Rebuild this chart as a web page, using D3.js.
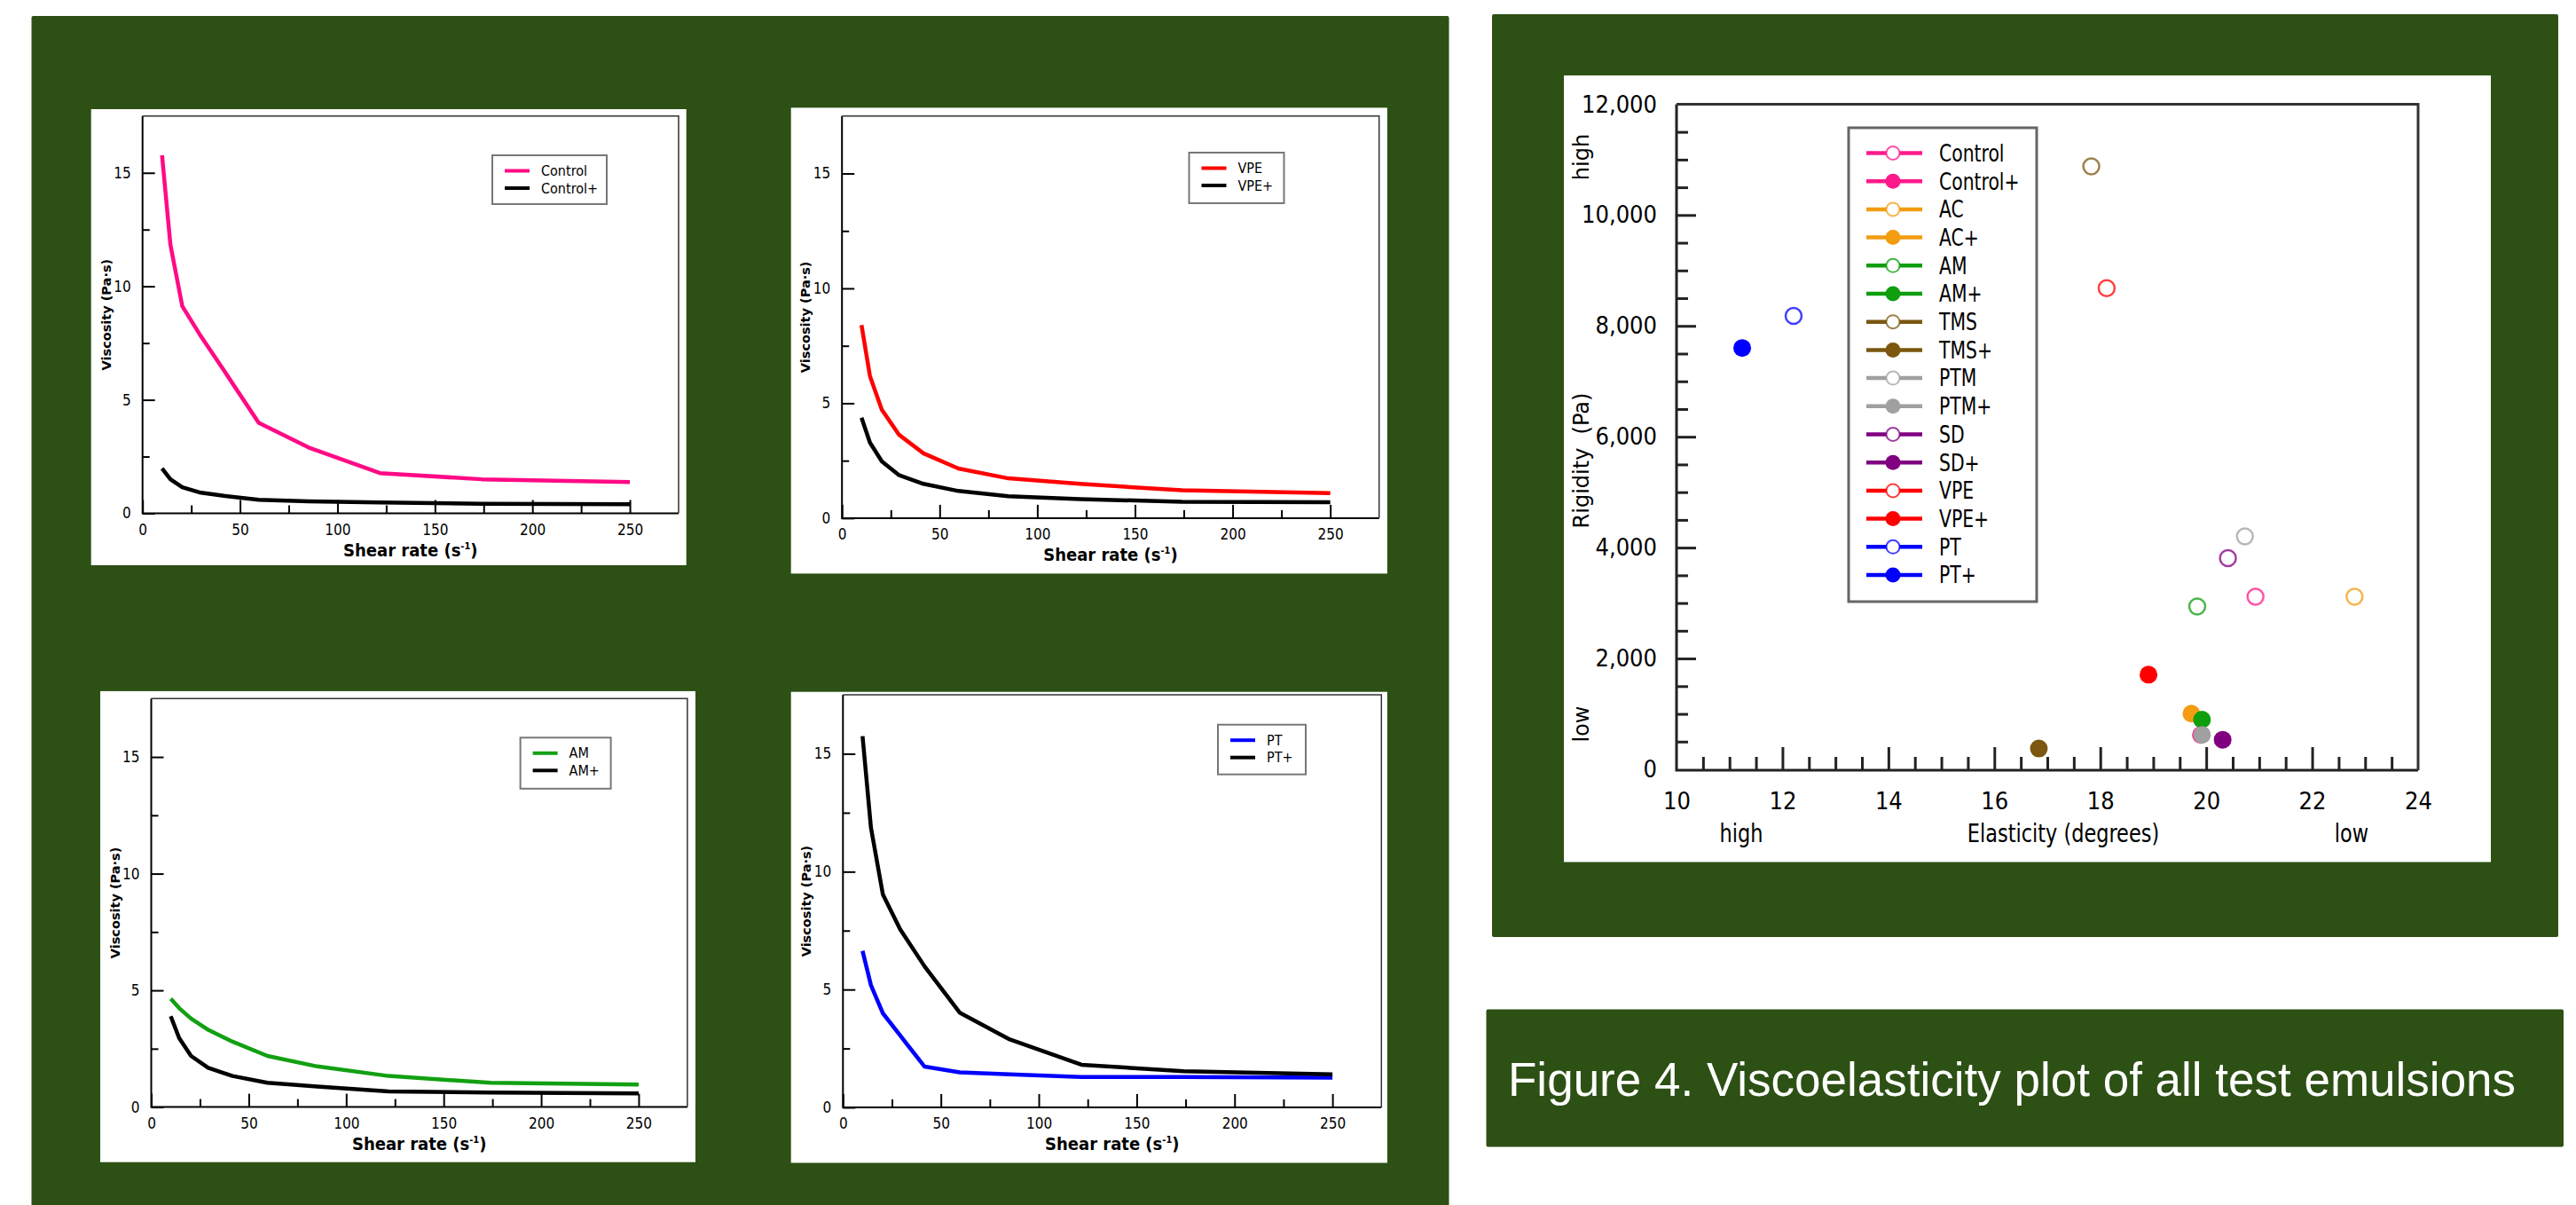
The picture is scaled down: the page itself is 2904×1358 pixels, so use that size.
<!DOCTYPE html>
<html>
<head>
<meta charset="utf-8">
<script src="https://cdn.jsdelivr.net/npm/d3@7"></script>
<style>
  body { margin: 0; background: #fff; }
  svg { display: block; }
</style>
</head>
<body>
<div id="poster"></div>
<script>
// shear rate sweep (s^-1), shared by the four viscosity curves
const shearRate = [10, 14.3, 20.4, 29.2, 41.7, 59.6, 85.2, 121.8, 174.1, 250];
const control = [15.77, 11.83, 9.12, 7.9, 6.3, 3.99, 2.9, 1.77, 1.5, 1.38];
const controlPlus = [1.98, 1.5, 1.15, 0.92, 0.77, 0.6, 0.53, 0.48, 0.42, 0.4];
const vpe = [8.4, 6.19, 4.72, 3.63, 2.82, 2.16, 1.73, 1.49, 1.21, 1.09];
const vpePlus = [4.37, 3.29, 2.47, 1.87, 1.49, 1.18, 0.95, 0.83, 0.71, 0.69];
const am = [4.64, 4.24, 3.79, 3.31, 2.8, 2.19, 1.74, 1.33, 1.04, 0.96];
const amPlus = [3.89, 2.96, 2.19, 1.68, 1.33, 1.04, 0.88, 0.67, 0.62, 0.58];
const pt = [6.64, 5.18, 3.99, 3.05, 1.73, 1.49, 1.4, 1.29, 1.29, 1.26];
const ptPlus = [15.75, 11.86, 9.03, 7.56, 5.98, 4.02, 2.88, 1.81, 1.53, 1.4];

const shearTicks = [0, 50, 100, 150, 200, 250];
const viscTicks = [0, 5, 10, 15];

// viscoelasticity scatter
const samples = ['Control', 'Control+', 'AC', 'AC+', 'AM', 'AM+', 'TMS', 'TMS+',
  'PTM', 'PTM+', 'SD', 'SD+', 'VPE', 'VPE+', 'PT', 'PT+'];
const elasticity = [20.93, 19.9, 22.8, 19.72, 19.83, 19.92, 17.83, 16.84,
  20.73, 19.92, 20.41, 20.31, 18.12, 18.91, 12.21, 11.24];
const rigidity = [3115, 620, 3115, 1005, 2936, 896, 10877, 375,
  4202, 622, 3809, 534, 8681, 1707, 8180, 7601];

const elasticityTicks = [10, 12, 14, 16, 18, 20, 22, 24];
const rigidityTicks = [0, 2000, 4000, 6000, 8000, 10000, 12000];

const caption = 'Figure 4. Viscoelasticity plot of all test emulsions';

const GREEN = '#2d5014';
const NARROW = '"Liberation Sans Narrow", "DejaVu Sans Condensed", "Liberation Sans", sans-serif';
const palette = {
  Control: '#ff1a8c', AC: '#f39c12', AM: '#0e9e0e', TMS: '#7b5710',
  PTM: '#a0a0a0', SD: '#800080', VPE: '#ff0000', PT: '#0000ff'
};

const svg = d3.select('#poster').append('svg')
  .attr('width', 2904).attr('height', 1358);

// green panels
svg.append('rect').attr('x', 35.5).attr('y', 18).attr('width', 1598).attr('height', 1345)
  .attr('rx', 2).attr('fill', GREEN);
svg.append('rect').attr('x', 1682).attr('y', 16).attr('width', 1202).attr('height', 1040)
  .attr('rx', 2).attr('fill', GREEN);
svg.append('rect').attr('x', 1675.5).attr('y', 1137.5).attr('width', 1214.5).attr('height', 155)
  .attr('rx', 2).attr('fill', GREEN);
svg.append('text').attr('x', 1700).attr('y', 1235)
  .attr('font-family', '"Liberation Sans", Arial, sans-serif').attr('font-size', 53)
  .attr('fill', '#fff').text(caption);

const charts = [
  { box: [102.7, 123, 671, 514], l: 160.7, r: 765, t: 130.8, b: 578.5,
    legend: [555, 175, 129, 55],
    series: [['Control', control, '#ff0a85'], ['Control+', controlPlus, '#000']] },
  { box: [891.7, 121.4, 672.2, 525], l: 949.2, r: 1554.7, t: 130.8, b: 583.9,
    legend: [1340.5, 172, 107, 57],
    series: [['VPE', vpe, '#ff0000'], ['VPE+', vpePlus, '#000']] },
  { box: [113, 778.9, 671, 530.8], l: 170.5, r: 774.9, t: 787.3, b: 1247.6,
    legend: [586.6, 831.3, 102, 57.5],
    series: [['AM', am, '#12a012'], ['AM+', amPlus, '#000']] },
  { box: [891.7, 779.7, 672.2, 530.8], l: 950.3, r: 1557.3, t: 783.1, b: 1248,
    legend: [1373, 816.7, 99, 56],
    series: [['PT', pt, '#0000ff'], ['PT+', ptPlus, '#000']] }
];

function styleTicks(g, size) {
  g.select('.domain').remove();
  g.selectAll('.tick line').attr('stroke', '#000').attr('stroke-width', 2);
  g.selectAll('.tick text').attr('font-family', NARROW).attr('font-size', size).attr('fill', '#000');
}

function viscChart(c) {
  const g = svg.append('g');
  g.append('rect').attr('x', c.box[0]).attr('y', c.box[1])
    .attr('width', c.box[2]).attr('height', c.box[3]).attr('fill', '#fff');

  const x = d3.scaleLinear().domain([0, 275]).range([c.l, c.r]);
  const y = d3.scaleLinear().domain([0, 17.5]).range([c.b, c.t]);

  g.append('g').attr('transform', `translate(0,${c.b})`)
    .call(d3.axisBottom(x).tickValues([25, 75, 125, 175, 225]).tickSize(-9).tickFormat(''))
    .call(a => styleTicks(a, 17));
  g.append('g').attr('transform', `translate(0,${c.b})`)
    .call(d3.axisBottom(x).tickValues(shearTicks).tickSize(-15).tickPadding(12))
    .call(a => styleTicks(a, 17));
  g.append('g').attr('transform', `translate(${c.l},0)`)
    .call(d3.axisLeft(y).tickValues([2.5, 7.5, 12.5]).tickSize(-8).tickFormat(''))
    .call(a => styleTicks(a, 17));
  g.append('g').attr('transform', `translate(${c.l},0)`)
    .call(d3.axisLeft(y).tickValues(viscTicks).tickSize(-14).tickPadding(13))
    .call(a => styleTicks(a, 17));

  // frame
  g.append('path').attr('fill', 'none').attr('stroke', '#000').attr('stroke-width', 2)
    .attr('d', `M${c.l},${c.t}V${c.b}H${c.r}`);
  g.append('path').attr('fill', 'none').attr('stroke', '#333').attr('stroke-width', 1.5)
    .attr('d', `M${c.l},${c.t}H${c.r}V${c.b}`);

  const line = d3.line().x((d, i) => x(shearRate[i])).y(d => y(d));
  c.series.forEach(s => {
    g.append('path').datum(s[1])
      .attr('fill', 'none').attr('stroke', s[2]).attr('stroke-width', 4.5)
      .attr('stroke-linejoin', 'round').attr('d', line);
  });

  // axis titles
  g.append('text')
    .attr('transform', `translate(${c.l - 36},${(c.t + c.b) / 2}) rotate(-90)`)
    .attr('text-anchor', 'middle')
    .attr('font-family', '"DejaVu Sans", Verdana, sans-serif').attr('font-weight', 'bold')
    .attr('font-size', 14.5).text('Viscosity (Pa·s)');
  const xt = g.append('text').attr('x', (c.l + c.r) / 2).attr('y', c.b + 48)
    .attr('text-anchor', 'middle').attr('font-family', NARROW)
    .attr('font-weight', 'bold').attr('font-size', 20);
  xt.append('tspan').text('Shear rate (s');
  xt.append('tspan').attr('font-size', 11).attr('dy', -8).text('-1');
  xt.append('tspan').attr('dy', 8).text(')');

  // legend
  const [lx, ly, lw, lh] = c.legend;
  g.append('rect').attr('x', lx).attr('y', ly).attr('width', lw).attr('height', lh)
    .attr('fill', '#fff').attr('stroke', '#777').attr('stroke-width', 2);
  c.series.forEach((s, i) => {
    const yy = ly + 17.5 + i * 19.5;
    g.append('line').attr('x1', lx + 14).attr('x2', lx + 42).attr('y1', yy).attr('y2', yy)
      .attr('stroke', s[2]).attr('stroke-width', 4);
    g.append('text').attr('x', lx + 55).attr('y', yy).attr('dy', '0.35em')
      .attr('font-family', NARROW).attr('font-size', 16).text(s[0]);
  });
}

charts.forEach(viscChart);

// ---- scatter: rigidity vs elasticity ----
const sg = svg.append('g');
sg.append('rect').attr('x', 1763).attr('y', 85).attr('width', 1045).attr('height', 886.5).attr('fill', '#fff');

const xS = d3.scaleLinear().domain([10, 24]).range([1890, 2726]);
const yS = d3.scaleLinear().domain([0, 12000]).range([867, 117.4]);

sg.append('g').attr('transform', 'translate(0,867)')
  .call(d3.axisBottom(xS).tickValues(d3.range(10.5, 24, 0.5).filter(v => v % 2 !== 0)).tickSize(-14).tickFormat(''))
  .call(a => styleTicks(a, 26));
sg.append('g').attr('transform', 'translate(0,867)')
  .call(d3.axisBottom(xS).tickValues([12, 14, 16, 18, 20, 22]).tickSize(-25).tickFormat(''))
  .call(a => styleTicks(a, 26));
sg.append('g').attr('transform', 'translate(0,867)')
  .call(d3.axisBottom(xS).tickValues(elasticityTicks).tickSize(0).tickPadding(26))
  .call(a => styleTicks(a, 27));
sg.append('g').attr('transform', 'translate(1890,0)')
  .call(d3.axisLeft(yS).tickValues(d3.range(500, 12000, 500).filter(v => v % 2000 !== 0)).tickSize(-13).tickFormat(''))
  .call(a => styleTicks(a, 26));
sg.append('g').attr('transform', 'translate(1890,0)')
  .call(d3.axisLeft(yS).tickValues([2000, 4000, 6000, 8000, 10000]).tickSize(-22).tickFormat(''))
  .call(a => styleTicks(a, 26));
sg.append('g').attr('transform', 'translate(1890,0)')
  .call(d3.axisLeft(yS).tickValues(rigidityTicks).tickSize(0).tickPadding(22).tickFormat(d3.format(',')))
  .call(a => styleTicks(a, 27));
sg.selectAll('.tick line').attr('stroke-width', 3).attr('stroke', '#222');

sg.append('path').attr('fill', 'none').attr('stroke', '#222').attr('stroke-width', 3)
  .attr('d', 'M1890,117.4V868H2726');
sg.append('path').attr('fill', 'none').attr('stroke', '#333').attr('stroke-width', 3)
  .attr('d', 'M1890,117.4H2726V868');

// axis titles
const VERD = '"DejaVu Sans", Verdana, sans-serif';
[['high', 177], ['Rigidity  (Pa)', 519], ['low', 816]].forEach(([t, yy]) => {
  sg.append('text').attr('transform', `translate(1791,${yy}) rotate(-90)`)
    .attr('text-anchor', 'middle').attr('font-family', VERD).attr('font-size', 24)
    .style('white-space', 'pre').text(t);
});
[['high', 1963], ['Elasticity (degrees)', 2326], ['low', 2651]].forEach(([t, xx]) => {
  sg.append('text').attr('transform', `translate(${xx},949) scale(0.86,1)`)
    .attr('text-anchor', 'middle')
    .attr('font-family', NARROW).attr('font-size', 29).text(t);
});

const colorOf = name => palette[name.replace('+', '')];
const filled = name => name.endsWith('+');

samples.forEach((s, i) => {
  sg.append('circle')
    .attr('cx', xS(elasticity[i])).attr('cy', yS(rigidity[i])).attr('r', filled(s) ? 10 : 9)
    .attr('fill', filled(s) ? colorOf(s) : '#fff')
    .attr('stroke', colorOf(s)).attr('stroke-width', filled(s) ? 0 : 2.5)
    .attr('stroke-opacity', filled(s) ? 1 : 0.75);
});

// legend
const leg = sg.append('g');
leg.append('rect').attr('x', 2084).attr('y', 144).attr('width', 212).attr('height', 534)
  .attr('fill', '#fff').attr('stroke', '#666').attr('stroke-width', 3);
samples.forEach((s, i) => {
  const yy = 172.5 + i * 31.7;
  leg.append('line').attr('x1', 2104).attr('x2', 2167).attr('y1', yy).attr('y2', yy)
    .attr('stroke', colorOf(s)).attr('stroke-width', 4.5);
  leg.append('circle').attr('cx', 2134).attr('cy', yy).attr('r', filled(s) ? 8.5 : 7.5)
    .attr('fill', filled(s) ? colorOf(s) : '#fff')
    .attr('stroke', colorOf(s)).attr('stroke-width', filled(s) ? 0 : 2).attr('stroke-opacity', 0.75);
  leg.append('text').attr('transform', `translate(2186,${yy}) scale(0.87,1)`).attr('dy', '0.36em')
    .attr('font-family', NARROW).attr('font-size', 26).text(s);
});
</script>
</body>
</html>
